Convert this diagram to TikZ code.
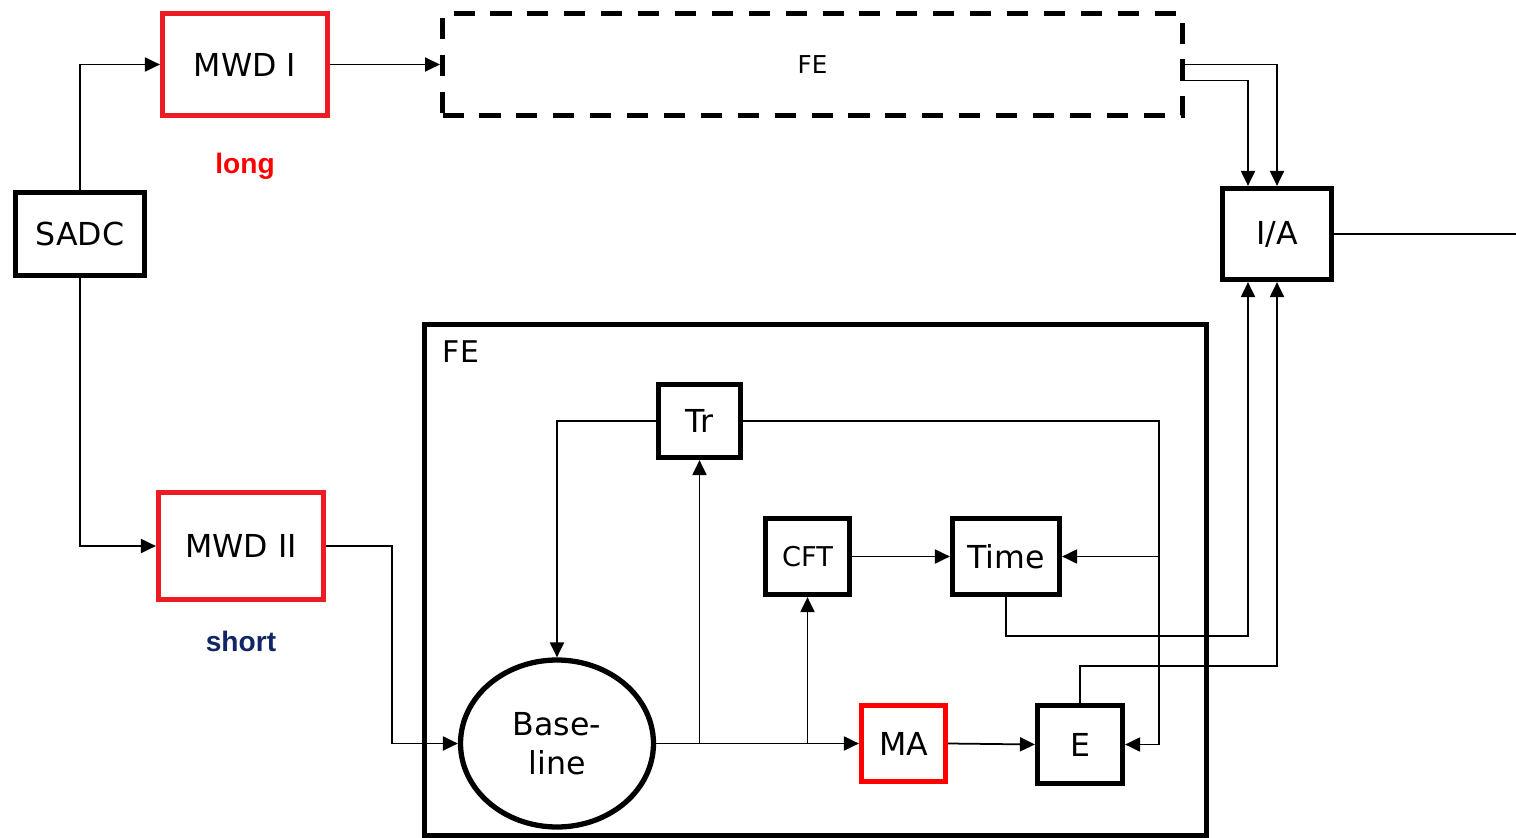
\documentclass[tikz,border=0pt]{standalone}
\usepackage{fontspec}
\setmainfont{DejaVu Sans}
\newfontfamily\labelfont{Liberation Sans}
\usetikzlibrary{arrows.meta, positioning, calc, shapes}
\definecolor{boxred}{RGB}{237,28,36}
\definecolor{pured}{RGB}{255,0,0}
\definecolor{navy}{RGB}{16,38,102}
\tikzset{
  blk/.style={draw, line width=3pt, inner sep=0pt, font=\fontsize{18}{20}\selectfont},
  redblk/.style={blk, draw=boxred},
  conn/.style={line width=1pt, -{Triangle[length=8.5pt, width=8pt]}},
  wire/.style={line width=1pt}
}

\begin{document}
\begin{tikzpicture}[x=0.02cm, y=-0.02cm]
  \useasboundingbox (0,0) rectangle (1516,838);
  % input and the two shapers
  \node[blk, minimum width=2.58cm, minimum height=1.66cm] (sadc) at (80,234) {SADC};
  \node[redblk, minimum width=3.30cm, minimum height=2.04cm] (mwd1) at (245,64.5) {MWD I};
  \node[redblk, minimum width=3.30cm, minimum height=2.14cm] (mwd2) at (241,546) {MWD II};
  \node[font=\labelfont\bfseries\fontsize{16}{18}\selectfont, text=pured] (long) at (245,166) {long};
  \node[font=\labelfont\bfseries\fontsize{16}{18}\selectfont, text=navy] (short) at (241,641) {short};
  % upper FE, only sketched
  \node[draw, line width=3pt, dash pattern=on 12pt off 9pt, inner sep=0pt,
        minimum width=14.8cm, minimum height=2.04cm, font=\fontsize{14}{16}\selectfont] (fetop) at (812.5,64.5) {FE};
  \node[blk, minimum width=2.18cm, minimum height=1.82cm] (ia) at (1277,234) {I/A};
  \coordinate (out) at (1516,234);
  % lower FE in detail
  \draw[line width=3pt] (424.5,324.5) rectangle (1206.5,835.5);
  \node[font=\fontsize{17}{19}\selectfont] (felbl) at (461,352) {FE};
  \node[blk, ellipse, minimum width=3.86cm, minimum height=3.34cm, align=center,
        font=\fontsize{18}{22}\selectfont] (base) at (557,743.5) {Base-\\line};
  \node[blk, minimum width=1.64cm, minimum height=1.46cm] (tr) at (699.5,421) {Tr};
  \node[blk, minimum width=1.68cm, minimum height=1.52cm, font=\fontsize{15.5}{17}\selectfont] (cft) at (807.5,556.5) {CFT};
  \node[blk, minimum width=2.14cm, minimum height=1.52cm] (time) at (1006,556.5) {Time};
  \node[blk, draw=pured, minimum width=1.68cm, minimum height=1.52cm] (ma) at (903.5,743.5) {MA};
  \node[blk, minimum width=1.70cm, minimum height=1.56cm] (e) at (1080,744.5) {E};
  \coordinate (bus) at (1159,421);
  \coordinate (ian1) at ($(ia.north)+(-29,0)$);
  \coordinate (ias1) at ($(ia.south)+(-29,0)$);
  % connections
  \draw[conn] (sadc.north) |- (mwd1.west);
  \draw[conn] (sadc.south) |- (mwd2.west);
  \draw[conn] (mwd1.east) -- (fetop.west);
  \draw[conn] (fetop.east) -| (ia.north);
  \draw[conn] ($(fetop.east)+(0,16)$) -| (ian1);
  \draw[wire] (ia.east) -- (out);
  \draw[conn] (mwd2.east) -- ++(66,0) |- (base.west);
  \draw[conn] (base.east) -- (ma.west);
  \draw[conn] (tr.south |- base.east) -- (tr.south);
  \draw[conn] (cft.south |- base.east) -- (cft.south);
  \draw[conn] (tr.west) -| (base.north);
  \draw[conn] (tr.east) -- (bus) |- (e.east);
  \draw[conn] (bus |- time.east) -- (time.east);
  \draw[conn] (cft.east) -- (time.west);
  \draw[conn] (ma.east) -- (e.west);
  \draw[conn] (time.south) -- ++(0,38.5) -| (ias1);
  \draw[conn] (e.north) -- ++(0,-37) -| (ia.south);
\end{tikzpicture}
\end{document}
